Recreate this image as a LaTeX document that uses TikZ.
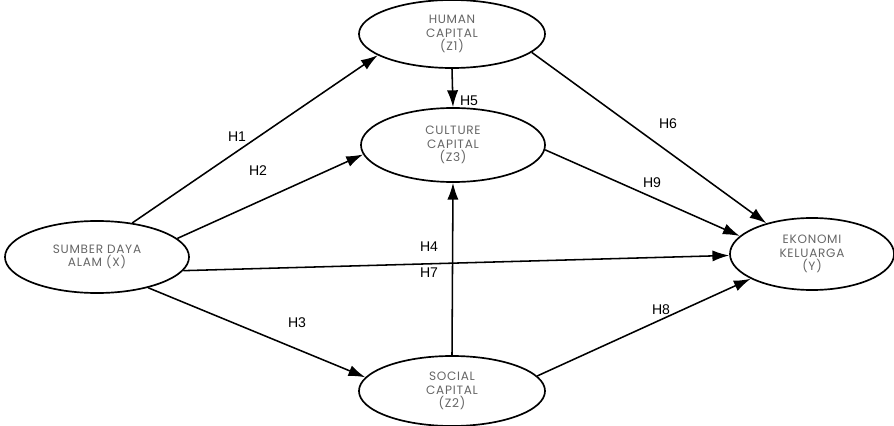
\documentclass[tikz,border=0pt]{standalone}
\usepackage{fontspec}
\setmainfont{Liberation Sans}
\newfontfamily\varfont[LetterSpace=6]{Poppins}
\usetikzlibrary{arrows.meta,shapes.geometric}

\begin{document}
\begin{tikzpicture}[x=0.025cm, y=-0.025cm,
  var/.style={draw, line width=1.2pt, ellipse, minimum width=4.6cm, minimum height=1.8cm, inner sep=0pt,
    align=center, font=\varfont\fontsize{8.6}{9.4}\selectfont, text=black!60},
  link/.style={line width=1.1pt, -{Latex[length=0.42cm,width=0.28cm]}},
  hyp/.style={font=\fontsize{10}{12}\selectfont}]
\useasboundingbox (0,0) rectangle (894,426);

\node[var] (X) at (97,257) {SUMBER DAYA\\ALAM (X)};
\node[var, minimum width=4.65cm, minimum height=1.7cm] (Z1) at (452,34) {HUMAN\\CAPITAL\\(Z1)};
\node[var, minimum height=1.85cm] (Z3) at (453,145) {CULTURE\\CAPITAL\\(Z3)};
\node[var, minimum width=4.1cm] (Y) at (812,254) {EKONOMI\\KELUARGA\\(Y)};
\node[var, minimum width=4.65cm, minimum height=1.75cm] (Z2) at (452,391) {SOCIAL\\CAPITAL\\(Z2)};

\draw[link] (X.44) -- (Z1.196);
\draw[link] (X.13) -- (Z3.186);
\draw[link] (X.-9) -- (Y.181);
\draw[link] (X.-31) -- (Z2.171);
\draw[link] (Z1.270) -- (Z3.90);
\draw[link] (Z2.90) -- (Z3.270);
\draw[link] (Z1.-13) -- (Y.146);
\draw[link] (Z3.-3) -- (Y.166);
\draw[link] (Z2.10) -- (Y.202);

\node[hyp] (h1) at (237,137) {H1};
\node[hyp] (h2) at (258,171) {H2};
\node[hyp] (h3) at (297,323) {H3};
\node[hyp] (h4) at (429,247) {H4};
\node[hyp] (h5) at (469,101) {H5};
\node[hyp] (h6) at (668,124) {H6};
\node[hyp] (h7) at (429,273) {H7};
\node[hyp] (h8) at (661,310) {H8};
\node[hyp] (h9) at (652,183) {H9};
\end{tikzpicture}
\end{document}
